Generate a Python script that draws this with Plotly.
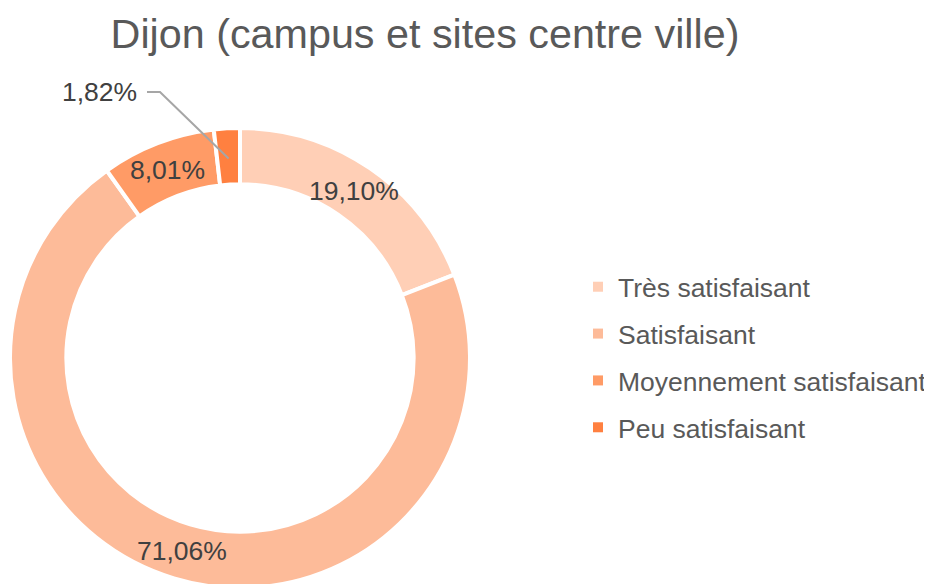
import math
import plotly.graph_objects as go

# ---- data ----
labels = ["Très satisfaisant", "Satisfaisant", "Moyennement satisfaisant", "Peu satisfaisant"]
values = [19.10, 71.06, 8.01, 1.82]
colors = ["#FFCFB6", "#FDBB99", "#FF9B66", "#FF8040"]
title_text = "Dijon (campus et sites centre ville)"

# ---- layout constants (screen pixels) ----
W, H = 932, 584
OFF = 8  # page body margin offset
cx, cy, R = 240, 358, 230
HOLE = 0.755
FONT = "Liberation Sans, Arial, sans-serif"
LABEL_SIZE = 26.5


def fx(p):
    return (p - OFF) / W


def fy(p):
    return (H - (p - OFF)) / H


fmt = [f"{v:.2f}".replace(".", ",") + "%" for v in values]
total = sum(values)
small_idx = len(values) - 1

fig = go.Figure()
fig.add_trace(go.Pie(
    labels=labels,
    values=values,
    textinfo="none",
    marker=dict(colors=colors, line=dict(color="white", width=4)),
    hole=HOLE,
    sort=False,
    direction="clockwise",
    rotation=0,
    showlegend=False,
    hoverinfo="label+percent",
    domain=dict(x=[fx(cx - R), fx(cx + R)],
                y=[max(0.0, fy(cy + R)), fy(cy - R)]),
))

# legend entries (separate groups to control spacing)
for lab, col in zip(labels, colors):
    fig.add_trace(go.Scatter(
        x=[None], y=[None], mode="markers", name=lab, legendgroup=lab,
        marker=dict(symbol="square", size=10, color=col),
    ))

# data labels at mid-ring, computed from the values
r_mid = R * (1 + HOLE) / 2
cum = 0.0
mids = []
for i, v in enumerate(values):
    theta = 2 * math.pi * (cum + v / 2) / total
    cum += v
    px = cx + r_mid * math.sin(theta)
    py = cy - r_mid * math.cos(theta)
    mids.append((px, py))
    if i != small_idx:
        fig.add_annotation(x=fx(px), y=fy(py), xref="paper", yref="paper",
                           text=fmt[i], showarrow=False,
                           xanchor="center", yanchor="middle",
                           font=dict(size=LABEL_SIZE, color="#404040", family=FONT))

# leader line for the small slice
px_end, py_end = mids[small_idx]
px_end, py_end = cx + (px_end - cx) * 0.99, cy + (py_end - cy) * 0.99
lab_x, lab_y = 139, 92
fig.add_shape(type="path", xref="paper", yref="paper",
              path=f"M {fx(lab_x + 8)} {fy(lab_y)} L {fx(lab_x + 21)} {fy(lab_y)} L {fx(px_end)} {fy(py_end)}",
              line=dict(color="#A6A6A6", width=2))
fig.add_annotation(x=fx(lab_x), y=fy(lab_y), xref="paper", yref="paper",
                   text=fmt[small_idx], showarrow=False,
                   xanchor="right", yanchor="middle",
                   font=dict(size=LABEL_SIZE, color="#404040", family=FONT))

fig.update_layout(
    width=W, height=H,
    margin=dict(l=0, r=0, t=0, b=0),
    paper_bgcolor="white", plot_bgcolor="white",
    title=dict(text=title_text, x=fx(425), xanchor="center",
               y=fy(34), yanchor="middle",
               font=dict(size=41.3, color="#595959", family=FONT)),
    xaxis=dict(visible=False), yaxis=dict(visible=False),
    legend=dict(x=fx(578), xanchor="left", y=fy(357), yanchor="middle",
                font=dict(size=LABEL_SIZE, color="#595959", family=FONT),
                tracegroupgap=9.4, bgcolor="rgba(0,0,0,0)"),
)

fig.write_html("out.html")
